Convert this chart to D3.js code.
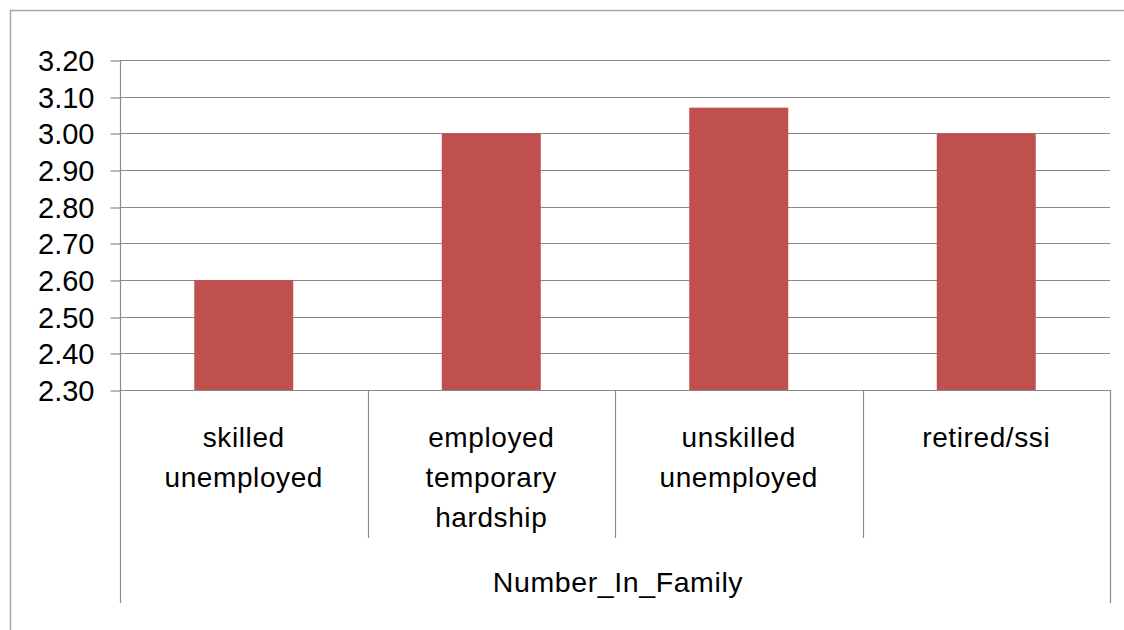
<!DOCTYPE html>
<html>
<head>
<meta charset="utf-8">
<script src="https://cdn.jsdelivr.net/npm/d3@7"></script>
<style>
  html, body { margin: 0; padding: 0; background: #fff; }
  svg { display: block; }
  text { font-family: "Liberation Sans", Arial, sans-serif; fill: #000; }
</style>
</head>
<body>
<svg id="chart" width="1124" height="630"></svg>
<script>
// Average number in family, by employment status
const categories = ["skilled unemployed", "employed temporary hardship", "unskilled unemployed", "retired/ssi"];
const values = [2.60, 3.00, 3.07, 3.00];
const tickValues = [2.30, 2.40, 2.50, 2.60, 2.70, 2.80, 2.90, 3.00, 3.10, 3.20];
const groupLabel = "Number_In_Family";

const svg = d3.select("#chart");
const plot = { left: 120, right: 1110, top: 60, bottom: 390 };

// Outer chart frame (runs off the right and bottom edges)
svg.append("rect")
  .attr("x", 10.5).attr("y", 10.5)
  .attr("width", 1140).attr("height", 650)
  .attr("fill", "none")
  .attr("stroke", "#a6a6a6")
  .attr("stroke-width", 1.5);

const y = d3.scaleLinear()
  .domain([d3.min(tickValues), d3.max(tickValues)])
  .range([plot.bottom, plot.top]);

const x = d3.scaleBand()
  .domain(categories)
  .range([plot.left, plot.right])
  .paddingInner(0.6)
  .paddingOuter(0.3);

// Horizontal gridlines
svg.append("g")
  .selectAll("line")
  .data(tickValues)
  .join("line")
  .attr("x1", plot.left).attr("x2", plot.right)
  .attr("y1", d => Math.round(y(d)) + 0.5).attr("y2", d => Math.round(y(d)) + 0.5)
  .attr("stroke", "#8a8a8a")
  .attr("stroke-width", 1.2);

// Value axis with outward ticks
const yAxis = svg.append("g")
  .attr("transform", `translate(${plot.left + 0.5},0)`)
  .call(d3.axisLeft(y).tickValues(tickValues).tickFormat(d3.format(".2f")).tickSize(10).tickPadding(16));
yAxis.select(".domain").remove();
yAxis.selectAll(".tick line").attr("stroke", "#8a8a8a").attr("stroke-width", 1.2)
  .attr("transform", d => `translate(0,${Math.round(y(d)) + 0.5 - y(d)})`);
yAxis.selectAll(".tick text")
  .attr("font-size", 29)
  .attr("font-family", "Liberation Sans, Arial, sans-serif")
  .attr("fill", "#000")
  .attr("dy", "0.36em");

// Bars
svg.append("g")
  .selectAll("rect")
  .data(categories.map((c, i) => ({ c, v: values[i] })))
  .join("rect")
  .attr("x", d => x(d.c))
  .attr("width", x.bandwidth())
  .attr("y", d => y(d.v))
  .attr("height", d => y.range()[0] - y(d.v))
  .attr("fill", "#c0504d");

// Left value axis line, extended down through the category area
svg.append("line")
  .attr("x1", plot.left + 0.5).attr("x2", plot.left + 0.5)
  .attr("y1", plot.top).attr("y2", 603)
  .attr("stroke", "#8a8a8a").attr("stroke-width", 1.2);

// Category separators
const step = x.step();
const bounds = d3.range(categories.length + 1).map(i => plot.left + i * step);
svg.append("g")
  .selectAll("line")
  .data(bounds.slice(1))
  .join("line")
  .attr("x1", d => Math.round(d) + 0.5).attr("x2", d => Math.round(d) + 0.5)
  .attr("y1", plot.bottom)
  .attr("y2", (d, i) => i === categories.length - 1 ? 603 : 538)
  .attr("stroke", "#8a8a8a").attr("stroke-width", 1.2);

// Category labels, one word per line
const labels = svg.append("g")
  .selectAll("text")
  .data(categories)
  .join("text")
  .attr("x", d => x(d) + x.bandwidth() / 2)
  .attr("y", 447)
  .attr("text-anchor", "middle")
  .attr("font-size", 28)
  .attr("letter-spacing", 0.6);
labels.selectAll("tspan")
  .data(d => d.split(" "))
  .join("tspan")
  .attr("x", function () { return d3.select(this.parentNode).attr("x"); })
  .attr("dy", (d, i) => i === 0 ? 0 : 40)
  .text(d => d);

// Group label under the category axis
svg.append("text")
  .attr("x", (plot.left + plot.right) / 2 + 3)
  .attr("y", 592)
  .attr("text-anchor", "middle")
  .attr("font-size", 28.5)
  .attr("letter-spacing", 0.6)
  .text(groupLabel);
</script>
</body>
</html>
